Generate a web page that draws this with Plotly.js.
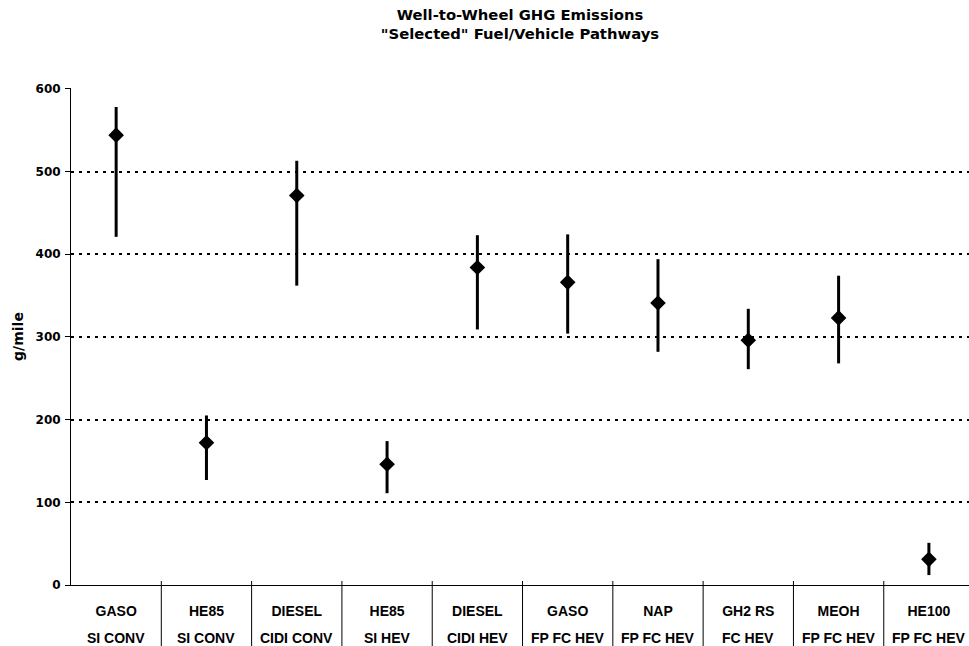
<!DOCTYPE html>
<html>
<head>
<meta charset="utf-8">
<script src="https://cdn.plot.ly/plotly-3.0.1.min.js"></script>
<style>html,body{margin:0;padding:0;background:#fff;}#chart{width:969px;height:646px;}</style>
</head>
<body>
<div id="chart"></div>
<script>
const fuels = ["GASO", "HE85", "DIESEL", "HE85", "DIESEL", "GASO", "NAP", "GH2 RS", "MEOH", "HE100"];
const vehicles = ["SI CONV", "SI CONV", "CIDI CONV", "SI HEV", "CIDI HEV", "FP FC HEV", "FP FC HEV", "FC HEV", "FP FC HEV", "FP FC HEV"];
const midValues = [544, 172, 471, 146, 384, 366, 341, 296, 323, 31];
const highValues = [578, 205, 513, 174, 423, 424, 394, 334, 374, 51];
const lowValues = [421, 127, 362, 111, 309, 304, 282, 261, 268, 12];
const yTicks = [0, 100, 200, 300, 400, 500, 600];

const idx = fuels.map((_, i) => i);
const FONT = "DejaVu Sans, Arial, sans-serif";
const CATFONT = "'Liberation Sans', Arial, sans-serif";

const trace = {
  type: "scatter",
  mode: "markers",
  x: idx,
  y: midValues,
  marker: {symbol: "diamond", size: 12, color: "#000"},
  error_y: {
    type: "data",
    symmetric: false,
    array: highValues.map((h, i) => h - midValues[i]),
    arrayminus: lowValues.map((l, i) => midValues[i] - l),
    color: "#000",
    thickness: 3,
    width: 0
  },
  hoverinfo: "skip",
  cliponaxis: false
};

const plotH = 646 - 88 - 61;
const shapes = [];
for (let k = 1; k < fuels.length; k++) {
  shapes.push({
    type: "line", xref: "x", yref: "paper",
    x0: k - 0.5, x1: k - 0.5, y0: 4 / plotH, y1: -0.14,
    line: {color: "#000", width: 1}
  });
}
const annotations = vehicles.map((v, i) => ({
  xref: "x", yref: "paper", x: i, y: -(638 - 585) / plotH,
  yanchor: "middle", xanchor: "center", showarrow: false,
  text: v, font: {family: CATFONT, size: 14, color: "#000", weight: "bold"}
}));

const layout = {
  width: 969, height: 646,
  margin: {l: 71, r: 0, t: 88, b: 61},
  paper_bgcolor: "#fff", plot_bgcolor: "#fff",
  showlegend: false,
  title: {
    text: "Well-to-Wheel GHG Emissions<br>\"Selected\" Fuel/Vehicle Pathways",
    font: {family: FONT, size: 14.8, color: "#000", weight: "bold"},
    x: 0.5, xanchor: "center", xref: "paper",
    yref: "container", y: 1 - 20 / 646, yanchor: "middle"
  },
  xaxis: {
    range: [-0.5, 9.444],
    tickvals: idx, ticktext: fuels,
    ticks: "outside", ticklen: 13, tickcolor: "rgba(0,0,0,0)",
    tickfont: {family: CATFONT, size: 14, color: "#000", weight: "bold"},
    showgrid: false, zeroline: false,
    showline: true, linecolor: "#000", linewidth: 1,
    fixedrange: true
  },
  yaxis: {
    range: [0, 601],
    tickvals: yTicks,
    ticks: "outside", ticklen: 5, tickcolor: "#000",
    ticklabelstandoff: 2,
    tickfont: {family: FONT, size: 12, color: "#000", weight: "bold"},
    showgrid: true, gridcolor: "#000", griddash: "3px,5px", gridwidth: 2,
    zeroline: false,
    showline: true, linecolor: "#000", linewidth: 1,
    title: {text: "g/mile", standoff: 8, font: {family: FONT, size: 14, color: "#000", weight: "bold"}},
    fixedrange: true
  },
  shapes: shapes,
  annotations: annotations
};

Plotly.newPlot("chart", [trace], layout, {displayModeBar: false, staticPlot: true});
</script>
</body>
</html>
